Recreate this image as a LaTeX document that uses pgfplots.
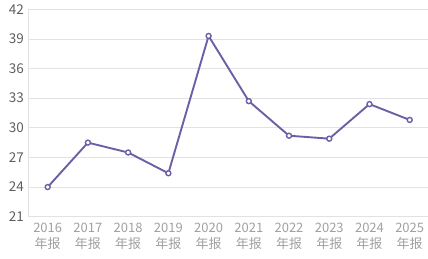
\documentclass[border=0pt]{standalone}
\usepackage{pgfplots}
\pgfplotsset{compat=1.18}
\usepackage{fontspec}
\setmainfont{Noto Sans CJK SC}
\usetikzlibrary{calc}
\definecolor{lc}{RGB}{110,94,166}
\definecolor{gridc}{RGB}{226,226,230}
\definecolor{ylab}{RGB}{95,95,95}
\definecolor{xlab}{RGB}{160,160,160}
\begin{document}
\begin{tikzpicture}
\begin{axis}[
  scale only axis,
  width=399.7pt, height=207.4pt,
  xmin=-0.482, xmax=9.455,
  ymin=21, ymax=42,
  ytick={21,24,...,42},
  xtick={0,...,9},
  xticklabels={2016\\年报,2017\\年报,2018\\年报,2019\\年报,2020\\年报,2021\\年报,2022\\年报,2023\\年报,2024\\年报,2025\\年报},
  x tick label style={align=center, font=\fontsize{13}{16}\selectfont, text=xlab, yshift=-3pt},
  y tick label style={font=\fontsize{13.5}{15}\selectfont, text=ylab, xshift=-1pt},
  /pgf/number format/assume math mode=true,
  major tick length=0pt,
  axis y line*=left,
  axis x line*=bottom,
  x axis line style={draw=none},
  y axis line style={draw=gridc, line width=0.8pt},
  ymajorgrids,
  grid style={draw=gridc, line width=0.8pt},
  clip=false,
]
\addplot[lc, line width=1.9pt, mark=*, mark size=2.5pt, mark options={fill=white, line width=1.4pt}]
coordinates {(0,24.0) (1,28.5) (2,27.5) (3,25.4) (4,39.3) (5,32.7) (6,29.2) (7,28.9) (8,32.4) (9,30.8)};
\end{axis}
\pgfresetboundingbox
\useasboundingbox ($(current axis.south west)+(-28.3pt,-42.3pt)$) rectangle ($(current axis.north east)+(0pt,9.3pt)$);
\end{tikzpicture}
\end{document}
